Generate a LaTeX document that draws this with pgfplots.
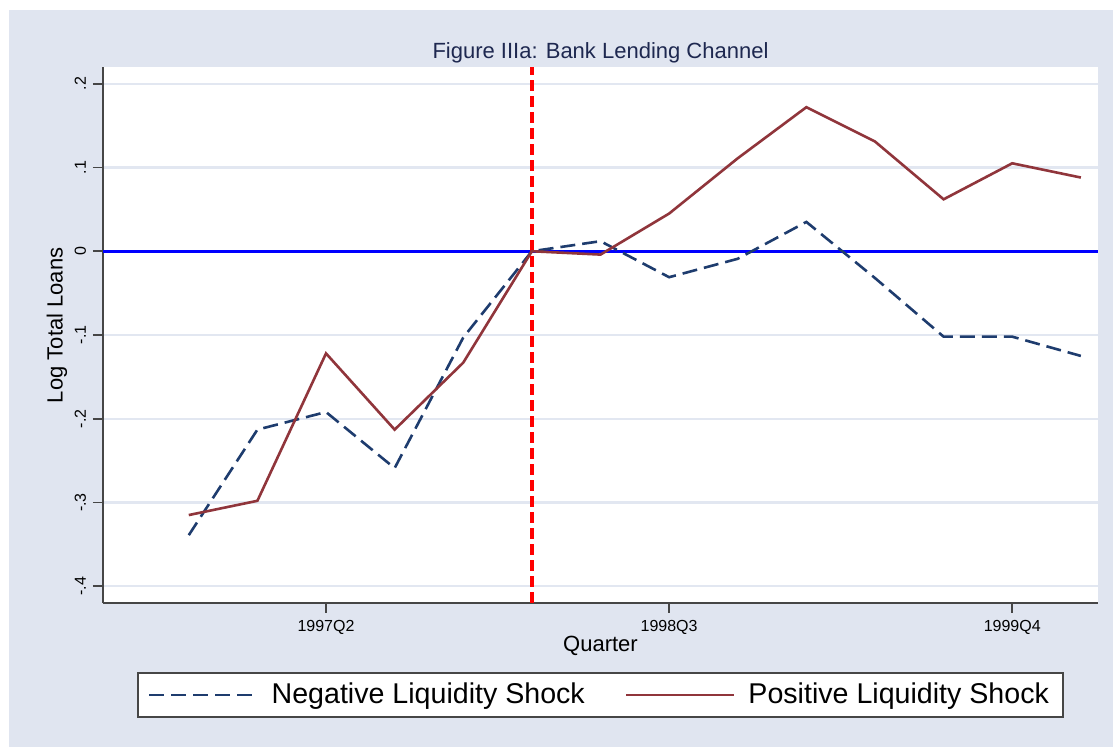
\documentclass[border=0pt]{standalone}
\usepackage{fontspec}
\setmainfont{Liberation Sans}
\usepackage{pgfplots}
\pgfplotsset{compat=1.18}
\definecolor{bgc}{RGB}{224,229,240}
\definecolor{gridc}{RGB}{226,231,241}
\definecolor{navyc}{RGB}{30,60,110}
\definecolor{maroonc}{RGB}{144,53,59}
\definecolor{axc}{RGB}{70,70,70}
\definecolor{titc}{RGB}{30,40,80}
\begin{document}
\begin{tikzpicture}
\fill[white] (-51.5pt,-72pt) rectangle (505pt,301.5pt);
\fill[bgc] (-47pt,-72pt) rectangle (505pt,296.5pt);
\begin{axis}[
  at={(0,0)}, anchor=south west,
  scale only axis, width=497.5pt, height=268pt,
  xmin=-1.25, xmax=13.25, ymin=-0.42, ymax=0.22,
  axis x line*=bottom, axis y line*=left,
  axis line style={axc, line width=1pt, -},
  axis background/.style={fill=white},
  xtick={2,7,12}, xticklabels={1997Q2,1998Q3,1999Q4},
  ytick={-0.4,-0.3,-0.2,-0.1,0,0.1,0.2},
  yticklabels={-.4,-.3,-.2,-.1,0,.1,.2},
  tick align=outside, major tick length=5pt,
  tick style={axc, line width=0.8pt},
  ymajorgrids, grid style={gridc, line width=1.2pt},
  ticklabel style={font=\fontsize{8}{9}\selectfont},
  yticklabel style={rotate=90, anchor=south},
  /pgf/number format/assume math mode=true,
  xlabel={Quarter}, ylabel={Log Total Loans},
  label style={font=\fontsize{11}{12}\selectfont},
  xlabel style={at={([yshift=-21.5pt]axis description cs:0.5,0)}, anchor=center},
  ylabel style={at={([xshift=-23pt]axis description cs:0,0.518)}, anchor=center},
  title={Figure IIIa: Bank Lending Channel},
  title style={font=\fontsize{11}{12}\selectfont, color=titc, at={([yshift=1pt]axis description cs:0.5,1)}, anchor=center},
  legend columns=2,
  legend style={at={([yshift=-46pt]axis description cs:0.5,0)}, anchor=center,
    draw=axc, line width=0.7pt, fill=white, font=\fontsize{14.3}{16}\selectfont,
    inner xsep=5pt, inner ysep=3pt,
    /tikz/every odd column/.append style={column sep=4.5pt},
    /tikz/every even column/.append style={column sep=18pt}},
  legend image code/.code={\draw[#1] (0pt,0pt) -- (54pt,0pt);},
  clip=true,
]
\addplot[forget plot, color=blue, line width=1.5pt] coordinates {(-1.25,0) (13.25,0)};
\addplot[forget plot, color=red, line width=1.8pt, dash pattern=on 5.5pt off 2.5pt] coordinates {(5,-0.42) (5,0.22)};
\addplot[color=navyc, line width=1.3pt, dash pattern=on 7.5pt off 3.5pt] coordinates {
(0,-0.339) (1,-0.213) (2,-0.192) (3,-0.259) (4,-0.103) (5,0) (6,0.012)
(7,-0.031) (8,-0.009) (9,0.035) (10,-0.032) (11,-0.102) (12,-0.102) (13,-0.125)};
\addlegendentry{Negative Liquidity Shock}
\addplot[color=maroonc, line width=1.3pt] coordinates {
(0,-0.315) (1,-0.298) (2,-0.122) (3,-0.213) (4,-0.133) (5,0) (6,-0.004)
(7,0.045) (8,0.111) (9,0.172) (10,0.131) (11,0.062) (12,0.105) (13,0.088)};
\addlegendentry{Positive Liquidity Shock\hspace{6pt}}
\end{axis}
\end{tikzpicture}
\end{document}
